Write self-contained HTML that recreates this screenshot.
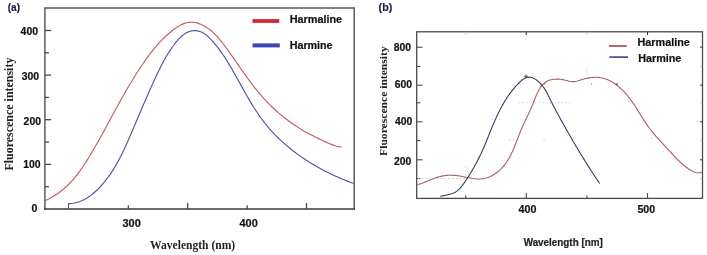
<!DOCTYPE html>
<html><head><meta charset="utf-8"><style>
html,body{margin:0;padding:0;background:#fff;}
body{width:707px;height:255px;overflow:hidden;position:relative;}
svg{position:absolute;left:0;top:0;}
.s{font-family:"Liberation Sans",sans-serif;font-weight:bold;stroke-width:0.2px;}
.t{font-family:"Liberation Serif",serif;font-weight:bold;}
</style></head><body>
<svg width="707" height="255" viewBox="0 0 707 255">
<g fill="none" stroke-linecap="square">
<path d="M44.9,209.0 L44.9,7.9 L354.2,7.9 L354.2,209.0" stroke="#5a5a5a" stroke-width="1.5"/>
<path d="M44.9,209.0 L354.2,209.0" stroke="#3a3a3a" stroke-width="1.5"/>
</g>
<g stroke="#4a4a4a" stroke-width="1.3">
<line x1="44.9" y1="186.7" x2="48.9" y2="186.7"/>
<line x1="44.9" y1="164.4" x2="51.1" y2="164.4"/>
<line x1="44.9" y1="142.1" x2="48.9" y2="142.1"/>
<line x1="44.9" y1="119.7" x2="51.1" y2="119.7"/>
<line x1="44.9" y1="97.4" x2="48.9" y2="97.4"/>
<line x1="44.9" y1="75.1" x2="51.1" y2="75.1"/>
<line x1="44.9" y1="52.8" x2="48.9" y2="52.8"/>
<line x1="44.9" y1="30.5" x2="51.1" y2="30.5"/>
<line x1="128.3" y1="209.0" x2="128.3" y2="205.3"/>
<line x1="187.7" y1="209.0" x2="187.7" y2="203.0"/>
<line x1="247.1" y1="209.0" x2="247.1" y2="205.3"/>
<line x1="306.5" y1="209.0" x2="306.5" y2="203.0"/>
</g>
<line x1="252.5" y1="21" x2="279.3" y2="21" stroke="#d22a32" stroke-width="3.8"/>
<line x1="252.5" y1="45.4" x2="279.8" y2="45.4" stroke="#3a46b6" stroke-width="4"/>
<path d="M45.02,200.69 L46.39,200.07 L47.74,199.42 L49.08,198.75 L50.39,198.06 L51.68,197.34 L52.96,196.60 L54.21,195.84 L55.45,195.05 L56.67,194.25 L57.87,193.42 L59.05,192.57 L60.22,191.70 L61.37,190.81 L62.50,189.90 L63.61,188.97 L64.70,188.02 L65.78,187.05 L66.84,186.07 L67.89,185.06 L68.92,184.04 L69.93,183.00 L70.93,181.95 L71.91,180.88 L72.88,179.79 L73.83,178.69 L74.77,177.57 L75.69,176.44 L76.60,175.30 L77.50,174.14 L78.39,172.98 L79.26,171.80 L80.13,170.61 L80.98,169.42 L81.82,168.21 L82.65,167.00 L83.48,165.77 L84.29,164.55 L85.10,163.31 L85.90,162.07 L86.69,160.83 L87.47,159.58 L88.25,158.33 L89.02,157.07 L89.79,155.82 L90.55,154.56 L91.30,153.30 L92.05,152.04 L92.80,150.78 L93.54,149.51 L94.28,148.25 L95.02,146.98 L95.75,145.71 L96.47,144.45 L97.20,143.17 L97.92,141.90 L98.63,140.63 L99.35,139.36 L100.06,138.08 L100.77,136.80 L101.47,135.53 L102.18,134.25 L102.88,132.97 L103.58,131.69 L104.28,130.41 L104.98,129.13 L105.67,127.85 L106.37,126.56 L107.06,125.28 L107.76,124.00 L108.45,122.71 L109.14,121.43 L109.84,120.14 L110.53,118.86 L111.22,117.57 L111.92,116.28 L112.61,115.00 L113.31,113.71 L114.00,112.42 L114.70,111.14 L115.40,109.85 L116.10,108.56 L116.80,107.27 L117.50,105.99 L118.21,104.70 L118.92,103.41 L119.63,102.13 L120.34,100.84 L121.06,99.56 L121.77,98.27 L122.50,96.99 L123.22,95.71 L123.94,94.43 L124.67,93.15 L125.41,91.87 L126.14,90.59 L126.88,89.32 L127.62,88.05 L128.37,86.78 L129.11,85.51 L129.87,84.25 L130.62,82.98 L131.38,81.73 L132.14,80.47 L132.91,79.22 L133.68,77.97 L134.46,76.72 L135.24,75.48 L136.02,74.24 L136.81,73.00 L137.60,71.77 L138.40,70.54 L139.20,69.32 L140.01,68.10 L140.82,66.88 L141.64,65.67 L142.46,64.47 L143.28,63.27 L144.12,62.07 L144.95,60.88 L145.80,59.70 L146.64,58.52 L147.50,57.35 L148.36,56.18 L149.22,55.02 L150.09,53.86 L150.97,52.71 L151.86,51.57 L152.75,50.43 L153.64,49.30 L154.55,48.18 L155.47,47.07 L156.40,45.97 L157.35,44.87 L158.31,43.79 L159.28,42.71 L160.27,41.64 L161.28,40.59 L162.31,39.55 L163.35,38.51 L164.41,37.48 L165.50,36.47 L166.60,35.46 L167.72,34.45 L168.86,33.46 L170.02,32.47 L171.20,31.49 L172.39,30.52 L173.61,29.58 L174.84,28.67 L176.08,27.79 L177.35,26.95 L178.62,26.16 L179.91,25.42 L181.22,24.75 L182.53,24.14 L183.86,23.60 L185.19,23.14 L186.54,22.77 L187.90,22.49 L189.26,22.31 L190.63,22.23 L192.01,22.24 L193.38,22.35 L194.76,22.54 L196.13,22.81 L197.49,23.17 L198.85,23.59 L200.19,24.09 L201.53,24.65 L202.84,25.28 L204.14,25.96 L205.41,26.69 L206.66,27.47 L207.88,28.29 L209.08,29.15 L210.24,30.05 L211.37,30.98 L212.48,31.94 L213.56,32.93 L214.61,33.95 L215.64,34.99 L216.65,36.06 L217.65,37.15 L218.62,38.25 L219.57,39.38 L220.51,40.52 L221.44,41.67 L222.35,42.83 L223.26,44.00 L224.15,45.18 L225.04,46.37 L225.92,47.56 L226.80,48.75 L227.67,49.94 L228.54,51.14 L229.40,52.34 L230.26,53.54 L231.11,54.74 L231.96,55.94 L232.81,57.15 L233.66,58.36 L234.50,59.56 L235.34,60.77 L236.18,61.98 L237.02,63.18 L237.86,64.39 L238.70,65.60 L239.54,66.80 L240.38,68.01 L241.22,69.21 L242.06,70.41 L242.90,71.61 L243.74,72.81 L244.59,74.00 L245.44,75.19 L246.29,76.38 L247.15,77.57 L248.00,78.75 L248.87,79.93 L249.73,81.10 L250.60,82.27 L251.48,83.44 L252.36,84.60 L253.25,85.76 L254.14,86.91 L255.04,88.06 L255.95,89.20 L256.87,90.33 L257.79,91.46 L258.72,92.58 L259.66,93.70 L260.60,94.80 L261.56,95.90 L262.52,97.00 L263.50,98.08 L264.48,99.16 L265.47,100.23 L266.48,101.29 L267.49,102.35 L268.51,103.39 L269.54,104.43 L270.58,105.46 L271.62,106.48 L272.68,107.49 L273.74,108.49 L274.82,109.49 L275.90,110.47 L276.99,111.45 L278.09,112.42 L279.19,113.38 L280.31,114.32 L281.43,115.26 L282.56,116.19 L283.70,117.11 L284.85,118.02 L286.01,118.92 L287.17,119.81 L288.34,120.69 L289.52,121.56 L290.71,122.42 L291.91,123.27 L293.11,124.11 L294.32,124.93 L295.54,125.75 L296.77,126.55 L298.00,127.35 L299.24,128.13 L300.49,128.90 L301.74,129.66 L303.01,130.41 L304.28,131.15 L305.55,131.88 L306.83,132.59 L308.12,133.30 L309.42,133.99 L310.72,134.68 L312.02,135.35 L313.33,136.02 L314.64,136.68 L315.96,137.34 L317.28,137.99 L318.60,138.63 L319.92,139.27 L321.24,139.90 L322.57,140.53 L323.89,141.15 L325.22,141.77 L326.55,142.38 L327.88,142.98 L329.21,143.56 L330.56,144.11 L331.91,144.63 L333.27,145.12 L334.64,145.56 L336.02,145.96 L337.42,146.31 L338.83,146.59 L340.26,146.82 L341.71,146.97" fill="none" stroke="#c45c66" stroke-width="1.15"/>
<path d="M68.5,209 L68.5,203.6" fill="none" stroke="#5252a0" stroke-width="1.15"/>
<path d="M68.36,203.69 L69.95,203.62 L71.51,203.48 L73.04,203.27 L74.55,202.99 L76.04,202.65 L77.50,202.25 L78.93,201.78 L80.34,201.26 L81.72,200.69 L83.09,200.06 L84.42,199.39 L85.74,198.67 L87.03,197.90 L88.30,197.09 L89.54,196.24 L90.76,195.36 L91.97,194.44 L93.15,193.48 L94.30,192.50 L95.44,191.49 L96.55,190.46 L97.65,189.40 L98.72,188.33 L99.78,187.23 L100.81,186.12 L101.83,185.00 L102.82,183.87 L103.80,182.72 L104.76,181.56 L105.70,180.39 L106.62,179.20 L107.53,178.01 L108.42,176.80 L109.29,175.58 L110.15,174.35 L110.99,173.11 L111.82,171.87 L112.64,170.61 L113.44,169.34 L114.22,168.06 L115.00,166.78 L115.76,165.48 L116.51,164.18 L117.25,162.87 L117.98,161.55 L118.70,160.23 L119.40,158.90 L120.10,157.56 L120.79,156.22 L121.47,154.87 L122.14,153.51 L122.80,152.15 L123.46,150.79 L124.11,149.42 L124.75,148.04 L125.38,146.67 L126.01,145.29 L126.64,143.90 L127.26,142.51 L127.87,141.12 L128.49,139.73 L129.10,138.34 L129.70,136.94 L130.30,135.55 L130.90,134.15 L131.50,132.75 L132.10,131.35 L132.70,129.95 L133.30,128.55 L133.89,127.15 L134.49,125.75 L135.08,124.35 L135.67,122.96 L136.27,121.56 L136.86,120.16 L137.45,118.76 L138.04,117.36 L138.64,115.97 L139.23,114.57 L139.82,113.17 L140.41,111.78 L141.01,110.38 L141.60,108.99 L142.20,107.60 L142.79,106.20 L143.39,104.81 L143.98,103.42 L144.58,102.03 L145.18,100.65 L145.78,99.26 L146.38,97.88 L146.98,96.49 L147.59,95.11 L148.19,93.73 L148.80,92.35 L149.41,90.98 L150.02,89.60 L150.63,88.23 L151.24,86.86 L151.86,85.49 L152.48,84.12 L153.10,82.76 L153.72,81.39 L154.35,80.03 L154.98,78.68 L155.61,77.32 L156.24,75.97 L156.88,74.62 L157.52,73.27 L158.16,71.92 L158.81,70.58 L159.46,69.24 L160.12,67.90 L160.79,66.57 L161.46,65.24 L162.15,63.91 L162.84,62.59 L163.55,61.27 L164.27,59.95 L165.00,58.64 L165.75,57.33 L166.52,56.03 L167.30,54.73 L168.09,53.43 L168.91,52.14 L169.74,50.85 L170.60,49.57 L171.48,48.29 L172.38,47.01 L173.30,45.74 L174.25,44.48 L175.22,43.22 L176.22,41.98 L177.24,40.76 L178.29,39.57 L179.37,38.42 L180.47,37.32 L181.60,36.27 L182.76,35.29 L183.95,34.38 L185.17,33.55 L186.41,32.81 L187.68,32.17 L188.99,31.63 L190.32,31.20 L191.68,30.89 L193.06,30.71 L194.46,30.64 L195.87,30.69 L197.28,30.86 L198.67,31.14 L200.05,31.54 L201.40,32.06 L202.72,32.68 L204.00,33.41 L205.23,34.24 L206.43,35.16 L207.60,36.15 L208.74,37.19 L209.84,38.29 L210.92,39.42 L211.98,40.57 L213.01,41.74 L214.03,42.91 L215.02,44.09 L215.99,45.28 L216.95,46.48 L217.89,47.68 L218.81,48.89 L219.72,50.10 L220.61,51.33 L221.48,52.55 L222.35,53.79 L223.20,55.03 L224.03,56.28 L224.86,57.53 L225.67,58.79 L226.48,60.05 L227.27,61.32 L228.06,62.60 L228.84,63.88 L229.61,65.16 L230.38,66.45 L231.14,67.75 L231.89,69.05 L232.65,70.35 L233.39,71.66 L234.14,72.97 L234.88,74.28 L235.62,75.60 L236.36,76.92 L237.10,78.25 L237.83,79.57 L238.57,80.90 L239.30,82.22 L240.03,83.55 L240.77,84.88 L241.51,86.21 L242.24,87.54 L242.98,88.87 L243.72,90.20 L244.46,91.52 L245.21,92.85 L245.96,94.17 L246.71,95.49 L247.46,96.81 L248.22,98.12 L248.99,99.44 L249.76,100.75 L250.53,102.05 L251.32,103.35 L252.10,104.65 L252.90,105.94 L253.70,107.22 L254.51,108.50 L255.32,109.77 L256.15,111.04 L256.98,112.30 L257.82,113.55 L258.68,114.80 L259.54,116.03 L260.41,117.26 L261.29,118.48 L262.19,119.70 L263.09,120.90 L264.01,122.09 L264.93,123.27 L265.87,124.45 L266.83,125.61 L267.79,126.76 L268.76,127.91 L269.75,129.04 L270.75,130.16 L271.75,131.28 L272.77,132.38 L273.80,133.48 L274.84,134.56 L275.89,135.64 L276.95,136.71 L278.02,137.76 L279.10,138.81 L280.19,139.85 L281.29,140.87 L282.40,141.89 L283.52,142.90 L284.65,143.90 L285.79,144.89 L286.93,145.87 L288.09,146.84 L289.25,147.80 L290.42,148.75 L291.60,149.69 L292.79,150.62 L293.98,151.54 L295.19,152.46 L296.40,153.36 L297.62,154.26 L298.84,155.14 L300.08,156.02 L301.32,156.88 L302.57,157.74 L303.82,158.59 L305.08,159.42 L306.35,160.25 L307.63,161.07 L308.91,161.88 L310.19,162.69 L311.49,163.48 L312.79,164.26 L314.09,165.03 L315.40,165.80 L316.72,166.55 L318.04,167.30 L319.36,168.04 L320.69,168.76 L322.03,169.48 L323.37,170.19 L324.71,170.89 L326.06,171.58 L327.42,172.27 L328.77,172.94 L330.14,173.60 L331.50,174.26 L332.87,174.90 L334.24,175.54 L335.62,176.17 L337.00,176.79 L338.38,177.40 L339.76,178.00 L341.15,178.59 L342.54,179.18 L343.93,179.75 L345.33,180.32 L346.73,180.87 L348.12,181.42 L349.53,181.96 L350.93,182.49 L352.33,183.01 L353.74,183.53" fill="none" stroke="#5252a0" stroke-width="1.15"/>

<rect x="416.7" y="31.8" width="285.8" height="166.6" fill="none" stroke="#4a4a4a" stroke-width="1.3"/>
<g stroke="#4a4a4a" stroke-width="1.1">
<line x1="416.7" y1="178.5" x2="420.3" y2="178.5"/>
<line x1="416.7" y1="159.8" x2="422.5" y2="159.8"/>
<line x1="416.7" y1="140.6" x2="420.3" y2="140.6"/>
<line x1="416.7" y1="121.8" x2="422.5" y2="121.8"/>
<line x1="416.7" y1="102.8" x2="420.3" y2="102.8"/>
<line x1="416.7" y1="85.2" x2="422.5" y2="85.2"/>
<line x1="416.7" y1="66.4" x2="420.3" y2="66.4"/>
<line x1="416.7" y1="47.2" x2="422.5" y2="47.2"/>
<line x1="465.7" y1="198.4" x2="465.7" y2="195.4"/>
<line x1="526.3" y1="198.4" x2="526.3" y2="193.1"/>
<line x1="586.9" y1="198.4" x2="586.9" y2="195.4"/>
<line x1="647.5" y1="198.4" x2="647.5" y2="193.1"/>
</g>
<g stroke="#b8b8b8" stroke-width="0.9">
<line x1="465.7" y1="31.8" x2="465.7" y2="34.3"/>
<line x1="526.3" y1="31.8" x2="526.3" y2="35.1" stroke="#3a3a3a" stroke-width="1.1"/>
<line x1="586.9" y1="31.8" x2="586.9" y2="34.3"/>
<line x1="647.5" y1="31.8" x2="647.5" y2="35.1" stroke="#3a3a3a" stroke-width="1.1"/>
<line x1="702.5" y1="178.5" x2="700.2" y2="178.5"/>
<line x1="702.5" y1="159.8" x2="700.2" y2="159.8" stroke="#3a3a3a" stroke-width="1.1"/>
<line x1="702.5" y1="140.6" x2="700.2" y2="140.6"/>
<line x1="702.5" y1="121.8" x2="700.2" y2="121.8" stroke="#3a3a3a" stroke-width="1.1"/>
<line x1="702.5" y1="102.8" x2="700.2" y2="102.8"/>
<line x1="702.5" y1="85.2" x2="700.2" y2="85.2" stroke="#3a3a3a" stroke-width="1.1"/>
<line x1="702.5" y1="66.4" x2="700.2" y2="66.4"/>
<line x1="702.5" y1="47.2" x2="700.2" y2="47.2" stroke="#3a3a3a" stroke-width="1.1"/>
</g>
<line x1="608.9" y1="46.0" x2="626.8" y2="46.0" stroke="#aa3c4a" stroke-width="1.6"/>
<line x1="609.4" y1="57.1" x2="628.1" y2="57.1" stroke="#3c3e8c" stroke-width="1.6"/>
<g stroke="#c4c4cc" stroke-width="1" stroke-dasharray="1.2,2.6" fill="none">
<line x1="418" y1="178.5" x2="466" y2="178.5"/>
<line x1="465.7" y1="166.5" x2="465.7" y2="178"/>
<line x1="518.5" y1="102.7" x2="527" y2="102.7"/>
<line x1="535" y1="102.7" x2="572" y2="102.7"/>
<line x1="491.5" y1="119.4" x2="501" y2="119.4"/>
<line x1="482" y1="140.1" x2="487" y2="140.1"/>
<line x1="509" y1="140.1" x2="516" y2="140.1"/>
<line x1="543.5" y1="140.1" x2="547" y2="140.1"/>
<line x1="586.7" y1="69.5" x2="586.7" y2="76"/>
<line x1="662.5" y1="151.2" x2="666" y2="151.2"/>
<line x1="671" y1="151.2" x2="674" y2="151.2"/>
<line x1="651" y1="138.4" x2="655" y2="138.4"/>
</g>
<g fill="#555">
<circle cx="591.4" cy="84" r="0.6"/>
<circle cx="628.6" cy="101.2" r="0.5" fill="#aaa"/>
<circle cx="616.9" cy="84.2" r="0.9" fill="#444"/>
<circle cx="544.7" cy="83.8" r="0.7"/>
<circle cx="518.8" cy="83.3" r="0.7"/>
<circle cx="561.4" cy="120.8" r="0.7"/>
<circle cx="579.4" cy="152.1" r="0.6"/>
<circle cx="584.1" cy="159.1" r="0.6"/>
<circle cx="588.8" cy="167" r="0.6"/>
<circle cx="478.4" cy="158.2" r="0.7"/>
<circle cx="697.7" cy="121.4" r="0.5" fill="#888"/>
</g>
<path d="M523.8,76.3 L528,76.3 M525.9,74.2 L525.9,78.4" stroke="#444" stroke-width="0.8"/>
<path d="M417.42,184.82 L418.62,184.46 L419.81,184.07 L421.01,183.66 L422.22,183.22 L423.43,182.76 L424.64,182.28 L425.85,181.79 L427.07,181.29 L428.29,180.79 L429.51,180.29 L430.73,179.79 L431.96,179.30 L433.19,178.82 L434.43,178.36 L435.66,177.92 L436.90,177.50 L438.14,177.11 L439.38,176.75 L440.62,176.42 L441.86,176.14 L443.11,175.89 L444.36,175.69 L445.61,175.52 L446.86,175.39 L448.12,175.30 L449.38,175.24 L450.65,175.22 L451.92,175.23 L453.19,175.28 L454.47,175.36 L455.75,175.47 L457.04,175.62 L458.33,175.79 L459.63,176.00 L460.94,176.23 L462.25,176.48 L463.56,176.74 L464.88,177.01 L466.20,177.29 L467.52,177.56 L468.84,177.83 L470.15,178.08 L471.47,178.32 L472.78,178.53 L474.09,178.71 L475.39,178.85 L476.69,178.96 L477.98,179.02 L479.26,179.02 L480.53,178.97 L481.79,178.86 L483.04,178.69 L484.28,178.45 L485.51,178.16 L486.72,177.81 L487.92,177.41 L489.10,176.96 L490.27,176.46 L491.41,175.91 L492.54,175.31 L493.64,174.67 L494.73,173.99 L495.79,173.27 L496.83,172.51 L497.84,171.72 L498.83,170.89 L499.79,170.03 L500.73,169.14 L501.63,168.22 L502.51,167.28 L503.35,166.31 L504.17,165.32 L504.96,164.31 L505.72,163.27 L506.46,162.22 L507.17,161.15 L507.86,160.06 L508.53,158.95 L509.18,157.83 L509.81,156.70 L510.42,155.55 L511.01,154.38 L511.58,153.21 L512.15,152.03 L512.69,150.83 L513.23,149.63 L513.75,148.42 L514.26,147.21 L514.77,145.99 L515.26,144.77 L515.75,143.54 L516.24,142.31 L516.71,141.09 L517.19,139.86 L517.66,138.63 L518.13,137.41 L518.61,136.19 L519.08,134.97 L519.56,133.76 L520.03,132.56 L520.52,131.36 L521.01,130.18 L521.50,129.00 L522.01,127.83 L522.52,126.67 L523.04,125.52 L523.56,124.38 L524.09,123.24 L524.62,122.10 L525.15,120.97 L525.69,119.84 L526.23,118.70 L526.77,117.57 L527.31,116.43 L527.85,115.29 L528.39,114.14 L528.93,112.98 L529.47,111.82 L530.00,110.64 L530.54,109.46 L531.06,108.26 L531.59,107.05 L532.11,105.83 L532.62,104.58 L533.12,103.32 L533.62,102.05 L534.12,100.77 L534.62,99.48 L535.13,98.19 L535.64,96.90 L536.17,95.63 L536.71,94.37 L537.27,93.12 L537.85,91.91 L538.45,90.72 L539.09,89.57 L539.75,88.45 L540.45,87.38 L541.18,86.36 L541.96,85.39 L542.78,84.48 L543.65,83.64 L544.57,82.86 L545.54,82.16 L546.57,81.53 L547.65,80.98 L548.78,80.51 L549.94,80.10 L551.15,79.77 L552.38,79.50 L553.64,79.31 L554.92,79.17 L556.21,79.10 L557.51,79.10 L558.82,79.15 L560.13,79.26 L561.44,79.43 L562.74,79.65 L564.02,79.92 L565.28,80.23 L566.54,80.56 L567.78,80.88 L569.00,81.17 L570.23,81.41 L571.44,81.57 L572.65,81.64 L573.85,81.59 L575.05,81.45 L576.26,81.22 L577.47,80.93 L578.69,80.60 L579.93,80.23 L581.18,79.84 L582.44,79.46 L583.73,79.09 L585.03,78.75 L586.35,78.43 L587.68,78.15 L589.02,77.89 L590.35,77.68 L591.69,77.50 L593.02,77.37 L594.34,77.29 L595.65,77.27 L596.94,77.30 L598.22,77.38 L599.48,77.52 L600.73,77.72 L601.96,77.96 L603.18,78.25 L604.38,78.59 L605.57,78.97 L606.74,79.40 L607.89,79.87 L609.04,80.39 L610.16,80.94 L611.27,81.53 L612.36,82.16 L613.44,82.83 L614.51,83.53 L615.56,84.26 L616.59,85.03 L617.61,85.82 L618.61,86.65 L619.60,87.50 L620.57,88.37 L621.53,89.27 L622.48,90.19 L623.40,91.14 L624.32,92.10 L625.22,93.08 L626.10,94.08 L626.97,95.09 L627.82,96.12 L628.66,97.16 L629.48,98.21 L630.29,99.27 L631.09,100.33 L631.87,101.41 L632.63,102.49 L633.38,103.57 L634.12,104.65 L634.84,105.74 L635.55,106.83 L636.25,107.91 L636.95,109.00 L637.63,110.09 L638.31,111.18 L638.98,112.27 L639.65,113.36 L640.32,114.45 L640.99,115.53 L641.66,116.61 L642.33,117.69 L643.01,118.77 L643.68,119.84 L644.37,120.91 L645.06,121.98 L645.76,123.04 L646.48,124.09 L647.20,125.14 L647.94,126.19 L648.69,127.23 L649.45,128.26 L650.24,129.28 L651.03,130.30 L651.84,131.31 L652.66,132.32 L653.50,133.32 L654.34,134.31 L655.19,135.30 L656.05,136.29 L656.92,137.27 L657.79,138.25 L658.67,139.23 L659.55,140.20 L660.44,141.17 L661.32,142.14 L662.21,143.11 L663.10,144.07 L663.98,145.04 L664.86,146.00 L665.74,146.97 L666.61,147.93 L667.48,148.89 L668.35,149.85 L669.22,150.81 L670.09,151.76 L670.96,152.71 L671.84,153.66 L672.71,154.60 L673.59,155.54 L674.48,156.47 L675.37,157.39 L676.27,158.31 L677.18,159.22 L678.09,160.12 L679.02,161.01 L679.96,161.89 L680.91,162.77 L681.87,163.63 L682.85,164.48 L683.85,165.32 L684.86,166.14 L685.88,166.96 L686.93,167.76 L687.99,168.54 L689.08,169.29 L690.18,170.00 L691.31,170.66 L692.45,171.25 L693.62,171.77 L694.81,172.19 L696.03,172.52 L697.27,172.73 L698.53,172.82 L699.82,172.77 L701.13,172.57 L702.47,172.21" fill="none" stroke="#a85c62" stroke-width="1.08"/>
<path d="M440.32,196.39 L441.16,196.18 L442.03,195.99 L442.94,195.80 L443.88,195.61 L444.83,195.43 L445.80,195.23 L446.79,195.03 L447.77,194.82 L448.76,194.59 L449.74,194.34 L450.71,194.07 L451.66,193.77 L452.60,193.43 L453.50,193.06 L454.37,192.65 L455.20,192.20 L456.00,191.71 L456.77,191.18 L457.51,190.62 L458.22,190.02 L458.90,189.40 L459.56,188.74 L460.20,188.07 L460.81,187.37 L461.41,186.65 L462.00,185.91 L462.57,185.16 L463.13,184.40 L463.68,183.63 L464.23,182.85 L464.77,182.07 L465.31,181.28 L465.84,180.49 L466.37,179.69 L466.89,178.90 L467.42,178.10 L467.93,177.30 L468.45,176.49 L468.96,175.68 L469.47,174.87 L469.97,174.06 L470.47,173.24 L470.97,172.42 L471.46,171.60 L471.95,170.78 L472.43,169.95 L472.91,169.13 L473.39,168.30 L473.87,167.46 L474.34,166.63 L474.80,165.79 L475.26,164.95 L475.72,164.11 L476.17,163.27 L476.62,162.42 L477.07,161.57 L477.51,160.73 L477.95,159.87 L478.38,159.02 L478.81,158.17 L479.24,157.31 L479.66,156.46 L480.07,155.60 L480.49,154.74 L480.89,153.87 L481.30,153.01 L481.70,152.15 L482.09,151.28 L482.49,150.42 L482.87,149.55 L483.26,148.68 L483.64,147.81 L484.01,146.94 L484.38,146.07 L484.75,145.19 L485.12,144.32 L485.48,143.45 L485.85,142.57 L486.21,141.70 L486.57,140.82 L486.92,139.94 L487.28,139.06 L487.63,138.19 L487.99,137.31 L488.34,136.43 L488.69,135.55 L489.05,134.67 L489.40,133.79 L489.76,132.91 L490.11,132.03 L490.47,131.15 L490.83,130.27 L491.19,129.39 L491.55,128.51 L491.91,127.63 L492.27,126.75 L492.64,125.87 L493.01,124.99 L493.38,124.11 L493.75,123.23 L494.12,122.36 L494.50,121.48 L494.88,120.61 L495.27,119.74 L495.66,118.87 L496.05,118.00 L496.44,117.13 L496.84,116.26 L497.24,115.40 L497.65,114.54 L498.06,113.68 L498.48,112.82 L498.90,111.96 L499.32,111.11 L499.75,110.26 L500.19,109.41 L500.63,108.56 L501.08,107.72 L501.53,106.88 L501.99,106.04 L502.45,105.21 L502.92,104.37 L503.39,103.55 L503.87,102.72 L504.36,101.90 L504.85,101.08 L505.36,100.27 L505.86,99.46 L506.38,98.66 L506.90,97.86 L507.43,97.06 L507.96,96.27 L508.50,95.48 L509.06,94.70 L509.61,93.92 L510.18,93.15 L510.75,92.38 L511.34,91.62 L511.93,90.86 L512.52,90.11 L513.13,89.36 L513.75,88.62 L514.37,87.88 L515.00,87.15 L515.65,86.43 L516.30,85.71 L516.96,85.00 L517.63,84.29 L518.31,83.59 L518.99,82.90 L519.69,82.22 L520.40,81.55 L521.12,80.90 L521.85,80.29 L522.59,79.70 L523.35,79.16 L524.11,78.67 L524.89,78.23 L525.68,77.86 L526.49,77.55 L527.30,77.32 L528.14,77.17 L528.98,77.11 L529.84,77.14 L530.72,77.27 L531.60,77.49 L532.48,77.79 L533.37,78.17 L534.25,78.61 L535.12,79.11 L535.97,79.66 L536.80,80.25 L537.60,80.87 L538.38,81.52 L539.13,82.19 L539.84,82.88 L540.53,83.58 L541.19,84.30 L541.82,85.03 L542.42,85.77 L543.01,86.53 L543.57,87.29 L544.11,88.07 L544.63,88.86 L545.14,89.65 L545.63,90.46 L546.10,91.27 L546.56,92.09 L547.01,92.92 L547.45,93.75 L547.88,94.59 L548.30,95.43 L548.72,96.28 L549.13,97.13 L549.54,97.98 L549.95,98.83 L550.36,99.68 L550.77,100.54 L551.18,101.39 L551.60,102.24 L552.02,103.09 L552.44,103.94 L552.87,104.79 L553.31,105.64 L553.75,106.49 L554.19,107.33 L554.63,108.17 L555.08,109.02 L555.53,109.86 L555.98,110.70 L556.44,111.54 L556.89,112.38 L557.35,113.22 L557.81,114.06 L558.27,114.90 L558.73,115.74 L559.19,116.57 L559.65,117.41 L560.12,118.25 L560.58,119.08 L561.04,119.92 L561.50,120.76 L561.97,121.59 L562.43,122.43 L562.90,123.26 L563.36,124.10 L563.83,124.93 L564.29,125.76 L564.76,126.60 L565.23,127.43 L565.70,128.26 L566.17,129.09 L566.63,129.92 L567.10,130.75 L567.58,131.58 L568.05,132.41 L568.52,133.24 L568.99,134.07 L569.47,134.90 L569.94,135.73 L570.42,136.56 L570.89,137.38 L571.37,138.21 L571.84,139.03 L572.32,139.86 L572.80,140.69 L573.28,141.51 L573.76,142.33 L574.24,143.16 L574.73,143.98 L575.21,144.80 L575.69,145.62 L576.18,146.44 L576.66,147.26 L577.15,148.08 L577.64,148.90 L578.13,149.72 L578.62,150.54 L579.11,151.36 L579.60,152.17 L580.09,152.99 L580.59,153.81 L581.08,154.62 L581.58,155.43 L582.07,156.25 L582.57,157.06 L583.07,157.87 L583.57,158.68 L584.07,159.50 L584.57,160.31 L585.08,161.12 L585.58,161.92 L586.09,162.73 L586.59,163.54 L587.10,164.35 L587.61,165.15 L588.12,165.96 L588.63,166.76 L589.15,167.57 L589.66,168.37 L590.18,169.17 L590.69,169.98 L591.21,170.78 L591.73,171.58 L592.25,172.38 L592.77,173.18 L593.30,173.97 L593.82,174.77 L594.35,175.57 L594.87,176.36 L595.40,177.16 L595.93,177.95 L596.46,178.75 L597.00,179.54 L597.53,180.33 L598.07,181.12 L598.60,181.91 L599.14,182.70 L599.68,183.49" fill="none" stroke="#3a3a62" stroke-width="1.08"/>
<g style="will-change:transform">
<text class="s" x="7.7" y="11.0" font-size="11.6" fill="#1c1c3c" stroke="#1c1c3c" text-anchor="start" textLength="12.3" lengthAdjust="spacingAndGlyphs">(a)</text>
<text class="s" x="20.6" y="34.9" font-size="10.5" fill="#111" stroke="#111" text-anchor="start" textLength="17.4" lengthAdjust="spacingAndGlyphs">400</text>
<text class="s" x="21.7" y="79.9" font-size="10.5" fill="#111" stroke="#111" text-anchor="start" textLength="17.4" lengthAdjust="spacingAndGlyphs">300</text>
<text class="s" x="23.6" y="124.6" font-size="10.5" fill="#111" stroke="#111" text-anchor="start" textLength="17.4" lengthAdjust="spacingAndGlyphs">200</text>
<text class="s" x="23.2" y="167.7" font-size="10.5" fill="#111" stroke="#111" text-anchor="start" textLength="17.4" lengthAdjust="spacingAndGlyphs">100</text>
<text class="s" x="31.4" y="212.1" font-size="10.5" fill="#111" stroke="#111" text-anchor="start" textLength="5.9" lengthAdjust="spacingAndGlyphs">0</text>
<text class="s" x="122.5" y="227.3" font-size="10.5" fill="#111" stroke="#111" text-anchor="start" textLength="18.3" lengthAdjust="spacingAndGlyphs">300</text>
<text class="s" x="239.5" y="227.0" font-size="10.5" fill="#111" stroke="#111" text-anchor="start" textLength="18.3" lengthAdjust="spacingAndGlyphs">400</text>
<text class="t" x="150.1" y="248.9" font-size="12.5" fill="#222" text-anchor="start" textLength="85.1" lengthAdjust="spacingAndGlyphs">Wavelength (nm)</text>
<g transform="translate(12.8,170.6) rotate(-90)"><text class="t" x="0.0" y="0.0" font-size="12.2" fill="#222" text-anchor="start" textLength="113.0" lengthAdjust="spacingAndGlyphs">Fluorescence intensity</text></g>
<text class="s" x="289.7" y="22.6" font-size="10.0" fill="#111" stroke="#111" text-anchor="start" textLength="52.4" lengthAdjust="spacingAndGlyphs">Harmaline</text>
<text class="s" x="289.7" y="48.9" font-size="10.0" fill="#111" stroke="#111" text-anchor="start" textLength="42.9" lengthAdjust="spacingAndGlyphs">Harmine</text>
<text class="s" x="378.6" y="10.9" font-size="11.6" fill="#1c1c3c" stroke="#1c1c3c" text-anchor="start" textLength="13.6" lengthAdjust="spacingAndGlyphs">(b)</text>
<text class="s" x="393.8" y="50.7" font-size="10.5" fill="#111" stroke="#111" text-anchor="start" textLength="17.3" lengthAdjust="spacingAndGlyphs">800</text>
<text class="s" x="394.7" y="88.4" font-size="10.5" fill="#111" stroke="#111" text-anchor="start" textLength="17.3" lengthAdjust="spacingAndGlyphs">600</text>
<text class="s" x="395.1" y="125.1" font-size="10.5" fill="#111" stroke="#111" text-anchor="start" textLength="17.3" lengthAdjust="spacingAndGlyphs">400</text>
<text class="s" x="393.9" y="164.6" font-size="10.5" fill="#111" stroke="#111" text-anchor="start" textLength="17.3" lengthAdjust="spacingAndGlyphs">200</text>
<text class="s" x="518.5" y="212.5" font-size="10.5" fill="#111" stroke="#111" text-anchor="start" textLength="17.9" lengthAdjust="spacingAndGlyphs">400</text>
<text class="s" x="637.4" y="212.7" font-size="10.5" fill="#111" stroke="#111" text-anchor="start" textLength="17.8" lengthAdjust="spacingAndGlyphs">500</text>
<text class="s" x="523.7" y="245.5" font-size="10.0" fill="#222" stroke="#222" text-anchor="start" textLength="79.1" lengthAdjust="spacingAndGlyphs">Wavelength [nm]</text>
<g transform="translate(387.2,155.9) rotate(-90)"><text class="t" x="0.0" y="0.0" font-size="11.2" fill="#222" text-anchor="start" textLength="109.6" lengthAdjust="spacingAndGlyphs">Fluorescence intensity</text></g>
<text class="s" x="637.5" y="45.8" font-size="10.1" fill="#111" stroke="#111" text-anchor="start" textLength="52.3" lengthAdjust="spacingAndGlyphs">Harmaline</text>
<text class="s" x="638.2" y="61.5" font-size="10.2" fill="#111" stroke="#111" text-anchor="start" textLength="43.1" lengthAdjust="spacingAndGlyphs">Harmine</text>
</g>
</svg>
</body></html>
